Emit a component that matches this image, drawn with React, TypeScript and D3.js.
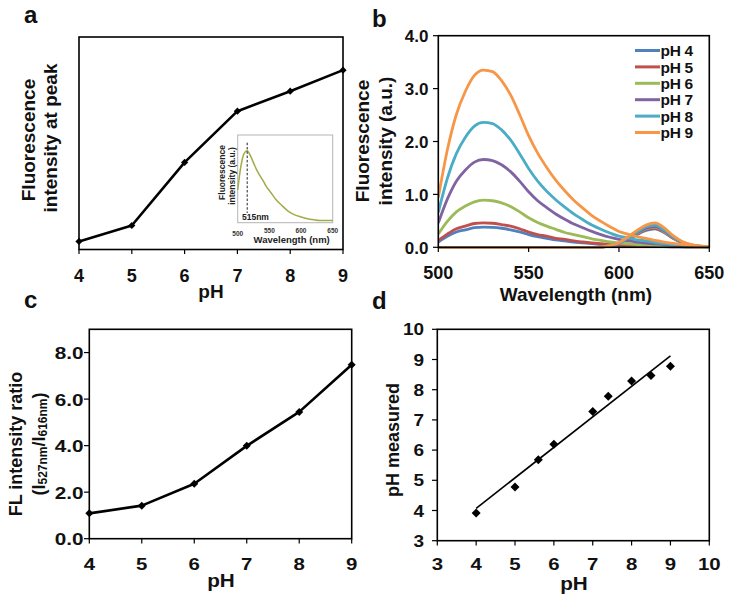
import React from 'react';
import * as d3 from 'd3';

const FONT = '"Liberation Sans", Arial, Helvetica, sans-serif';

// ---------- Panel a ----------
const phA = [4, 5, 6, 7, 8, 9];
const peakA = [3.8, 11.3, 41.0, 65.1, 74.5, 84.4];
const insetWl = [500, 505, 510, 515, 520, 525, 530, 535, 540, 545, 550, 555, 560, 570, 580, 590, 600, 610, 620, 630, 640, 650];
const insetI = [0.45, 0.78, 0.96, 1.0, 0.93, 0.83, 0.73, 0.65, 0.58, 0.5, 0.44, 0.38, 0.32, 0.23, 0.15, 0.1, 0.07, 0.045, 0.03, 0.02, 0.02, 0.02];
const insetTicks = [500, 550, 600, 650];
const insetPeak = 515;

// ---------- Panel b ----------
const wl = [500, 505, 510, 515, 520, 525, 530, 535, 540, 545, 550, 555, 560, 565, 570, 575, 580, 585, 590, 595, 600, 605, 610, 615, 620, 625, 630, 635, 640, 645, 650];
const greenPH4 = [0.10, 0.21, 0.29, 0.33, 0.37, 0.38, 0.376, 0.36, 0.33, 0.29, 0.24, 0.20, 0.17, 0.14, 0.12, 0.10, 0.084, 0.068, 0.055, 0.044, 0.034, 0.029, 0.023, 0.019, 0.015, 0.011, 0.008, 0.006, 0.004, 0.003, 0.002];
const greenPH5 = [0.13, 0.25, 0.35, 0.40, 0.45, 0.46, 0.455, 0.43, 0.40, 0.35, 0.29, 0.24, 0.21, 0.17, 0.15, 0.12, 0.10, 0.083, 0.067, 0.053, 0.041, 0.035, 0.028, 0.023, 0.018, 0.014, 0.01, 0.007, 0.005, 0.003, 0.002];
const greenPH6 = [0.25, 0.49, 0.67, 0.78, 0.86, 0.89, 0.88, 0.84, 0.77, 0.67, 0.56, 0.47, 0.40, 0.34, 0.28, 0.24, 0.20, 0.16, 0.13, 0.10, 0.08, 0.067, 0.053, 0.045, 0.036, 0.027, 0.02, 0.014, 0.01, 0.006, 0.004];
const greenPH7 = [0.46, 0.91, 1.25, 1.46, 1.61, 1.66, 1.64, 1.56, 1.43, 1.25, 1.05, 0.88, 0.75, 0.63, 0.53, 0.44, 0.37, 0.30, 0.24, 0.19, 0.15, 0.12, 0.10, 0.08, 0.066, 0.05, 0.037, 0.027, 0.018, 0.012, 0.007];
const greenPH8 = [0.66, 1.30, 1.77, 2.08, 2.29, 2.36, 2.34, 2.22, 2.03, 1.77, 1.49, 1.25, 1.06, 0.90, 0.76, 0.63, 0.52, 0.42, 0.34, 0.27, 0.21, 0.18, 0.14, 0.12, 0.09, 0.07, 0.05, 0.04, 0.026, 0.017, 0.009];
const greenPH9 = [0.94, 1.84, 2.51, 2.95, 3.25, 3.35, 3.32, 3.15, 2.88, 2.51, 2.11, 1.78, 1.51, 1.27, 1.07, 0.89, 0.74, 0.60, 0.49, 0.39, 0.30, 0.25, 0.20, 0.17, 0.13, 0.10, 0.074, 0.054, 0.037, 0.023, 0.013];
const redWl = [500, 585, 590, 595, 600, 605, 610, 615, 620, 625, 630, 635, 640, 645, 650];
const redPH4 = [0, 0, 0.003, 0.02, 0.065, 0.14, 0.24, 0.32, 0.35, 0.28, 0.17, 0.08, 0.035, 0.015, 0.008];
const redPH5 = [0, 0, 0.004, 0.02, 0.07, 0.15, 0.25, 0.34, 0.36, 0.29, 0.17, 0.085, 0.04, 0.016, 0.008];
const redPH6 = [0, 0, 0.004, 0.025, 0.07, 0.16, 0.26, 0.35, 0.38, 0.3, 0.18, 0.09, 0.04, 0.018, 0.01];
const redPH7 = [0, 0, 0.004, 0.025, 0.075, 0.17, 0.27, 0.36, 0.39, 0.31, 0.19, 0.095, 0.04, 0.018, 0.01];
const redPH8 = [0, 0, 0.005, 0.03, 0.08, 0.18, 0.29, 0.39, 0.42, 0.33, 0.2, 0.1, 0.045, 0.02, 0.01];
const redPH9 = [0, 0, 0.005, 0.03, 0.09, 0.2, 0.32, 0.42, 0.46, 0.37, 0.22, 0.11, 0.05, 0.02, 0.01];
const legendLabels = ['pH 4', 'pH 5', 'pH 6', 'pH 7', 'pH 8', 'pH 9'];
const seriesColors = ['#4F81BD', '#C0504D', '#9BBB59', '#8064A2', '#4BACC6', '#F79646'];
const yTicksB = [0, 1, 2, 3, 4];
const xTicksB = [500, 550, 600, 650];

// ---------- Panel c ----------
const phC = [4, 5, 6, 7, 8, 9];
const ratioC = [1.09, 1.42, 2.36, 3.99, 5.45, 7.48];
const yTicksC = [0, 2, 4, 6, 8];

// ---------- Panel d ----------
const phSet = [4, 5, 5.6, 6, 7, 7.4, 8, 8.5, 9];
const phMeasured = [3.92, 4.78, 5.68, 6.19, 7.28, 7.78, 8.29, 8.47, 8.78];
const fitX = [4, 9];
const fitY = [4.07, 9.12];
const ticksD = [3, 4, 5, 6, 7, 8, 9, 10];

const diamond = (r: number) => `M0,${-r}L${r},0L0,${r}L${-r},0Z`;

function T(props: any) {
  const { x, y, sx = 1, anchor = 'middle', size = 18, rotate = 0, children, fill = '#111', weight = 'bold', ...rest } = props;
  const tf = `translate(${x},${y})${rotate ? ` rotate(${rotate})` : ''}${sx !== 1 ? ` scale(${sx},1)` : ''}`;
  return (
    <text transform={tf} textAnchor={anchor} fontSize={size} fontWeight={weight} fontFamily={FONT} fill={fill} {...rest}>
      {children}
    </text>
  );
}

function PanelA() {
  const x = d3.scaleLinear().domain([4, 9]).range([79, 343]);
  const y = d3.scaleLinear().domain([0, 100]).range([249.5, 37]);
  const line = d3.line<number>().x((_, i) => x(phA[i])).y((d) => y(d));
  const ix = d3.scaleLinear().domain([500, 650]).range([237.7, 332.7]);
  const iy = d3.scaleLinear().domain([0, 1]).range([222, 150.7]);
  const iline = d3.line<number>().x((_, i) => ix(insetWl[i])).y((d) => iy(d)).curve(d3.curveMonotoneX);
  return (
    <g>
      <T x={24} y={23} size={24} anchor="start">a</T>
      <rect x={79} y={37} width={264} height={212.5} fill="none" stroke="#000" strokeWidth={1.6} />
      {phA.map((p) => (
        <g key={p}>
          <line x1={x(p)} x2={x(p)} y1={249.5} y2={254} stroke="#000" strokeWidth={1.2} />
          <T x={x(p)} y={281.5} size={18}>{p}</T>
        </g>
      ))}
      <T x={211} y={298} size={19}>pH</T>
      <T x={28.5} y={140} size={19} rotate={-90} dominantBaseline="central">Fluorescence</T>
      <T x={50} y={138} size={19} rotate={-90} dominantBaseline="central">intensity at peak</T>
      <path d={line(peakA) || ''} fill="none" stroke="#000" strokeWidth={2.6} strokeLinejoin="round" />
      {peakA.map((v, i) => (
        <path key={i} d={diamond(3.6)} transform={`translate(${x(phA[i])},${y(v)})`} fill="#000" />
      ))}
      {/* inset */}
      <rect x={237.7} y={135} width={95} height={87.7} fill="#fff" stroke="#b5b5b5" strokeWidth={1} />
      <path d={iline(insetI) || ''} fill="none" stroke="#a2ab48" strokeWidth={1.5} />
      <line x1={ix(insetPeak)} x2={ix(insetPeak)} y1={142.7} y2={213} stroke="#222" strokeWidth={1} strokeDasharray="2.5,1.8" />
      <T x={242} y={220} size={8.5} anchor="start" fill="#222">515nm</T>
      {insetTicks.map((t) => (
        <T key={t} x={ix(t)} y={t === 500 ? 236 : 233} size={6.5} fill="#333">{t}</T>
      ))}
      <T x={291.7} y={242.5} size={9.5} fill="#222">Wavelength (nm)</T>
      <T x={221.7} y={172.5} size={8.5} rotate={-90} dominantBaseline="central" fill="#222">Fluorescence</T>
      <T x={231.7} y={176} size={8.5} rotate={-90} dominantBaseline="central" fill="#222">intensity (a.u.)</T>
    </g>
  );
}

function PanelB() {
  const x = d3.scaleLinear().domain([500, 650]).range([438.3, 709.3]);
  const y = d3.scaleLinear().domain([0, 4]).range([247.3, 35.7]);
  const greens = [greenPH4, greenPH5, greenPH6, greenPH7, greenPH8, greenPH9];
  const reds = [redPH4, redPH5, redPH6, redPH7, redPH8, redPH9];
  const gLine = d3.line<number>().x((_, i) => x(wl[i])).y((d) => y(d)).curve(d3.curveMonotoneX);
  const rLine = d3.line<number>().x((_, i) => x(redWl[i])).y((d) => y(d)).curve(d3.curveMonotoneX);
  return (
    <g>
      <T x={372} y={27} size={24} anchor="start">b</T>
      <defs>
        <clipPath id="clipB">
          <rect x={438.3} y={35.7} width={271} height={213} />
        </clipPath>
      </defs>
      <g clipPath="url(#clipB)">
        {greens.map((g, i) => (
          <g key={i}>
            <path d={gLine(g) || ''} fill="none" stroke={seriesColors[i]} strokeWidth={2.8} />
            <path d={rLine(reds[i]) || ''} fill="none" stroke={seriesColors[i]} strokeWidth={2.8} />
          </g>
        ))}
      </g>
      <rect x={438.3} y={35.7} width={271} height={211.6} fill="none" stroke="#000" strokeWidth={1.6} />
      {yTicksB.map((t) => (
        <g key={t}>
          <line x1={433} x2={438.3} y1={y(t)} y2={y(t)} stroke="#000" strokeWidth={1.2} />
          <T x={428.5} y={y(t) + 6.2} size={17} anchor="end">{t.toFixed(1)}</T>
        </g>
      ))}
      {xTicksB.map((t) => (
        <g key={t}>
          <line x1={x(t)} x2={x(t)} y1={247.3} y2={252} stroke="#000" strokeWidth={1.2} />
          <T x={x(t)} y={278.5} size={18}>{t}</T>
        </g>
      ))}
      <T x={576} y={301} size={19}>Wavelength (nm)</T>
      <T x={362} y={141} size={19} rotate={-90} dominantBaseline="central">Fluorescence</T>
      <T x={385} y={141} size={19} rotate={-90} dominantBaseline="central">intensity (a.u.)</T>
      {legendLabels.map((l, i) => (
        <g key={l}>
          <line x1={635} x2={660} y1={50.5 + i * 16.4} y2={50.5 + i * 16.4} stroke={seriesColors[i]} strokeWidth={3} />
          <T x={660.5} y={50.5 + i * 16.4 + 5.6} size={15.5} anchor="start" letterSpacing={-0.3}>{l}</T>
        </g>
      ))}
    </g>
  );
}

function PanelC() {
  const x = d3.scaleLinear().domain([4, 9]).range([89.3, 351.7]);
  const y = d3.scaleLinear().domain([0, 9]).range([538.7, 329.3]);
  const line = d3.line<number>().x((_, i) => x(phC[i])).y((d) => y(d));
  return (
    <g>
      <T x={24} y={308} size={24} anchor="start">c</T>
      <rect x={89.3} y={329.3} width={262.4} height={209.4} fill="none" stroke="#000" strokeWidth={1.6} />
      {yTicksC.map((t) => (
        <g key={t}>
          <line x1={84} x2={89.3} y1={y(t)} y2={y(t)} stroke="#000" strokeWidth={1.2} />
          <T x={83.5} y={y(t) + 6.5} size={17} sx={1.22} anchor="end">{t.toFixed(1)}</T>
        </g>
      ))}
      {phC.map((p) => (
        <g key={p}>
          <line x1={x(p)} x2={x(p)} y1={538.7} y2={543.5} stroke="#000" strokeWidth={1.2} />
          <T x={x(p)} y={569.5} size={17} sx={1.2}>{p}</T>
        </g>
      ))}
      <T x={221} y={587} size={18} sx={1.15}>pH</T>
      <T x={16} y={444} size={18} rotate={-90} dominantBaseline="central">FL intensity ratio</T>
      <T x={39} y={444} size={18} rotate={-90} dominantBaseline="central">
        (I<tspan fontSize={12} dy={4}>527nm</tspan>
        <tspan dy={-4}>/I</tspan>
        <tspan fontSize={12} dy={4}>616nm</tspan>
        <tspan dy={-4}>)</tspan>
      </T>
      <path d={line(ratioC) || ''} fill="none" stroke="#000" strokeWidth={2.6} strokeLinejoin="round" />
      {ratioC.map((v, i) => (
        <path key={i} d={diamond(4)} transform={`translate(${x(phC[i])},${y(v)})`} fill="#000" />
      ))}
    </g>
  );
}

function PanelD() {
  const x = d3.scaleLinear().domain([3, 10]).range([437.3, 709.3]);
  const y = d3.scaleLinear().domain([3, 10]).range([540.7, 329.3]);
  const line = d3.line<number>().x((_, i) => x(fitX[i])).y((d) => y(d));
  return (
    <g>
      <T x={372} y={309} size={24} anchor="start">d</T>
      <rect x={437.3} y={329.3} width={272} height={211.4} fill="none" stroke="#000" strokeWidth={1.6} />
      {ticksD.map((t) => (
        <g key={'y' + t}>
          <line x1={432} x2={437.3} y1={y(t)} y2={y(t)} stroke="#000" strokeWidth={1.2} />
          <T x={424} y={y(t) + 6} size={16.5} sx={1.15} anchor="end">{t}</T>
        </g>
      ))}
      {ticksD.map((t) => (
        <g key={'x' + t}>
          <line x1={x(t)} x2={x(t)} y1={540.7} y2={545.5} stroke="#000" strokeWidth={1.2} />
          <T x={x(t)} y={570} size={17} sx={1.2}>{t}</T>
        </g>
      ))}
      <T x={574} y={590} size={18} sx={1.15}>pH</T>
      <T x={393} y={440} size={18} rotate={-90} dominantBaseline="central">pH measured</T>
      <path d={line(fitY) || ''} fill="none" stroke="#000" strokeWidth={1.6} />
      {phMeasured.map((v, i) => (
        <path key={i} d={diamond(4.5)} transform={`translate(${x(phSet[i])},${y(v)})`} fill="#000" />
      ))}
    </g>
  );
}

export default function App() {
  return (
    <svg width={729} height={607} style={{ position: 'absolute', left: 0, top: 0, background: '#fff' }}>
      <rect x={0} y={0} width={729} height={607} fill="#fff" />
      <PanelA />
      <PanelB />
      <PanelC />
      <PanelD />
    </svg>
  );
}
